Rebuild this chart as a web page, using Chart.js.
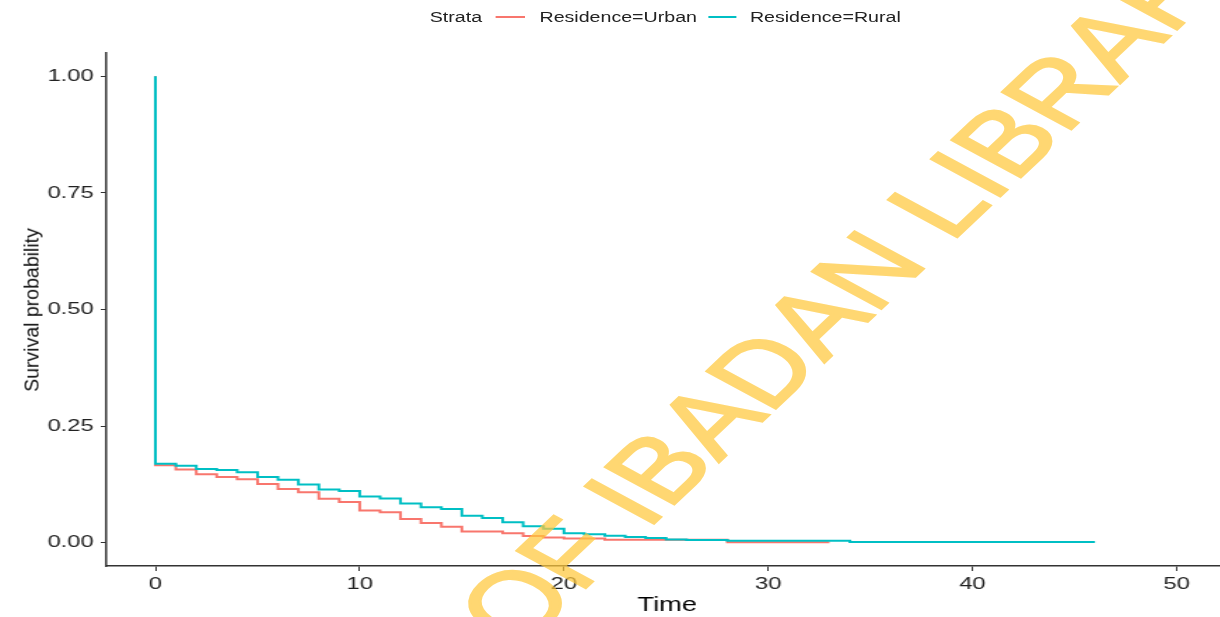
<!DOCTYPE html>
<html>
<head>
<meta charset="utf-8">
<script src="https://cdn.jsdelivr.net/npm/chart.js@4.4.1/dist/chart.umd.min.js"></script>
<style>
  html, body { margin: 0; padding: 0; background: #fff; overflow: hidden; }
  body { width: 1220px; height: 617px; position: relative; }
  /* the reference is stretched sideways, so the whole drawing is too */
  #stage { position: absolute; left: 0; top: 0; width: 880px; height: 617px; transform-origin: 0 0; transform: scaleX(1.4); }
  #legend { position: absolute; top: 9px; left: 307px; height: 16px; display: flex; align-items: center;
            font: 14px "Liberation Sans", Arial, sans-serif; color: #222; white-space: nowrap; }
  .sw { display: inline-block; height: 2.5px; }
  #mark { position: absolute; left: 311px; top: 604px; transform-origin: 0 0; transform: rotate(-52.9deg);
          font: 90px "Liberation Sans", Arial, sans-serif; line-height: 1; color: #FFC83C; opacity: 0.72;
          -webkit-text-stroke: 2px #FFC83C; white-space: nowrap; pointer-events: none; }
  #ytitle { position: absolute; left: 32px; top: 310px; transform: translate(-50%, -50%) rotate(-90deg);
            font: 19.5px "Liberation Sans", Arial, sans-serif; color: #111; white-space: nowrap; }
</style>
</head>
<body>
<div id="stage">
  <canvas id="km" width="880" height="617"></canvas>
  <div id="legend">
    <span>Strata</span>
    <span class="sw" style="width:21px;margin:0 10px 0 10px;background:#F8766D"></span>
    <span>Residence=Urban</span>
    <span class="sw" style="width:20px;margin:0 9.5px 0 8.3px;background:#00BFC4"></span>
    <span>Residence=Rural</span>
  </div>
  <div id="mark">OF IBADAN LIBRARY</div>
</div>
<div id="ytitle">Survival probability</div>

<script>
const xTicks = [0, 10, 20, 30, 40, 50];
const yTicks = [0, 0.25, 0.5, 0.75, 1];

// Kaplan-Meier steps
const urbanTime = [0, 0, 1, 2, 3, 4, 5, 6, 7, 8, 9, 10, 11, 12, 13, 14, 15, 17, 18, 19, 20, 22, 28, 33];
const urbanSurv = [1, 0.166, 0.157, 0.147, 0.141, 0.136, 0.126, 0.115, 0.108, 0.094, 0.087, 0.069, 0.065,
                   0.051, 0.042, 0.034, 0.024, 0.020, 0.0145, 0.011, 0.009, 0.0065, 0.001, 0.001];

const ruralTime = [0, 0, 1, 2, 3, 4, 5, 6, 7, 8, 9, 10, 11, 12, 13, 14, 15, 16, 17, 18, 19, 20, 21, 22, 23,
                   24, 25, 26, 28, 34, 46];
const ruralSurv = [1, 0.169, 0.165, 0.158, 0.156, 0.151, 0.141, 0.135, 0.125, 0.114, 0.111, 0.099, 0.095,
                   0.084, 0.076, 0.072, 0.058, 0.053, 0.044, 0.035, 0.030, 0.020, 0.018, 0.015, 0.012,
                   0.010, 0.007, 0.006, 0.004, 0.0015, 0.0015];

const fontFamily = '"Liberation Sans", Arial, sans-serif';

function toPoints(ts, ss) {
  return ts.map((t, i) => ({ x: t, y: ss[i] }));
}

const ctx = document.getElementById("km").getContext("2d");
new Chart(ctx, {
  type: "line",
  data: {
    datasets: [
      {
        label: "Residence=Urban",
        data: toPoints(urbanTime, urbanSurv),
        borderColor: "#F8766D",
        order: 1,
      },
      {
        label: "Residence=Rural",
        data: toPoints(ruralTime, ruralSurv),
        borderColor: "#00BFC4",
        order: 0,
      },
    ],
  },
  options: {
    responsive: false,
    animation: false,
    layout: { padding: { top: 53, right: 3, left: 0, bottom: 0 } },
    elements: {
      line: { stepped: "before", borderWidth: 2, fill: false, tension: 0 },
      point: { radius: 0 },
    },
    plugins: { legend: { display: false }, tooltip: { enabled: false } },
    scales: {
      x: {
        type: "linear",
        min: -2.4,
        max: 52.5,
        afterBuildTicks: (s) => { s.ticks = xTicks.map((v) => ({ value: v })); },
        afterFit: (s) => { s.height = 51; },
        grid: { drawOnChartArea: false, tickLength: 5, color: "#333" },
        border: { color: "#333", width: 1.5 },
        ticks: { font: { family: fontFamily, size: 17 }, color: "#222", padding: 3, maxRotation: 0 },
        title: { display: true, text: "Time", font: { family: fontFamily, size: 19.5 }, color: "#000", padding: 0 },
      },
      y: {
        min: -0.05,
        max: 1.05,
        afterBuildTicks: (s) => { s.ticks = yTicks.map((v) => ({ value: v })); },
        afterFit: (s) => { s.width = 76; },
        grid: { drawOnChartArea: false, tickLength: 4, color: "#333" },
        border: { color: "#333", width: 1.5 },
        ticks: {
          font: { family: fontFamily, size: 17 },
          color: "#222",
          padding: 5,
          callback: (v) => v.toFixed(2),
        },
      },
    },
  },
});
</script>
</body>
</html>
